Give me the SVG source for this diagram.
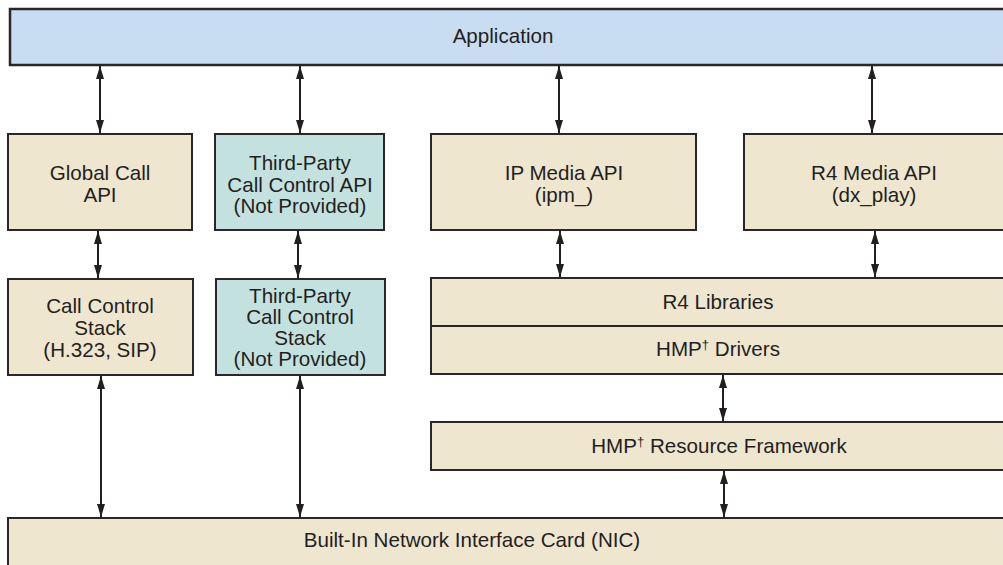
<svg xmlns="http://www.w3.org/2000/svg" width="1003" height="565" viewBox="0 0 1003 565">
<style>
.box{stroke:#2b2728;stroke-width:2}
.app{fill:#c8ddf2}
.tan{fill:#efe6d0}
.teal{fill:#c3e2df}
text{font-family:"Liberation Sans",Arial,Helvetica,sans-serif;font-size:20.6px;fill:#231f20;text-anchor:middle}
.conn line{stroke:#231f20;stroke-width:2;marker-start:url(#ah);marker-end:url(#ah)}
</style>
<defs>
<marker id="ah" viewBox="0 0 13 8" refX="13" refY="4" markerWidth="13" markerHeight="8" markerUnits="userSpaceOnUse" orient="auto-start-reverse">
<path d="M0,0 L13,4 L0,8 Z" fill="#231f20"/>
</marker>
</defs>
<rect width="1003" height="565" fill="#ffffff"/>
<g class="conn">
<line x1="100" y1="66" x2="100" y2="133"/>
<line x1="300" y1="66" x2="300" y2="133"/>
<line x1="559" y1="66" x2="559" y2="133"/>
<line x1="872" y1="66" x2="872" y2="133"/>
<line x1="98" y1="231" x2="98" y2="278"/>
<line x1="298" y1="231" x2="298" y2="278"/>
<line x1="560" y1="231" x2="560" y2="277"/>
<line x1="875" y1="231" x2="875" y2="277"/>
<line x1="101" y1="376" x2="101" y2="517"/>
<line x1="300" y1="376" x2="300" y2="517"/>
<line x1="723" y1="375" x2="723" y2="421"/>
<line x1="724" y1="471" x2="724" y2="517"/>
</g>
<g id="application">
<rect class="box app" x="10" y="9" width="1003" height="56" style="stroke-width:2.5"/>
<text x="503" y="43">Application</text>
</g>
<g id="global-call-api">
<rect class="box tan" x="8" y="134" width="184" height="96"/>
<text x="100" y="180">Global Call</text>
<text x="100" y="202">API</text>
</g>
<g id="third-party-api">
<rect class="box teal" x="215" y="134" width="169" height="96"/>
<text x="300" y="170">Third-Party</text>
<text x="300" y="191.5">Call Control API</text>
<text x="300" y="213">(Not Provided)</text>
</g>
<g id="ip-media-api">
<rect class="box tan" x="431" y="134" width="265" height="96"/>
<text x="564" y="180">IP Media API</text>
<text x="564" y="202">(ipm_)</text>
</g>
<g id="r4-media-api">
<rect class="box tan" x="744" y="134" width="270" height="96"/>
<text x="874" y="180">R4 Media API</text>
<text x="874" y="202">(dx_play)</text>
</g>
<g id="call-control-stack">
<rect class="box tan" x="8" y="279" width="185" height="96"/>
<text x="100" y="313">Call Control</text>
<text x="100" y="335">Stack</text>
<text x="100" y="357">(H.323, SIP)</text>
</g>
<g id="third-party-stack">
<rect class="box teal" x="216" y="279" width="169" height="96"/>
<text x="300" y="302.5">Third-Party</text>
<text x="300" y="323.5">Call Control</text>
<text x="300" y="344.5">Stack</text>
<text x="300" y="365.5">(Not Provided)</text>
</g>
<g id="r4-libraries">
<rect class="box tan" x="431" y="278" width="583" height="48"/>
<text x="718" y="309">R4 Libraries</text>
</g>
<g id="hmp-drivers">
<rect class="box tan" x="431" y="326" width="583" height="48"/>
<text x="718" y="356">HMP<tspan font-size="13" dy="-7">†</tspan><tspan dy="7"> Drivers</tspan></text>
</g>
<g id="hmp-resource-framework">
<rect class="box tan" x="431" y="422" width="583" height="48"/>
<text x="719" y="453">HMP<tspan font-size="13" dy="-7">†</tspan><tspan dy="7"> Resource Framework</tspan></text>
</g>
<g id="nic">
<rect class="box tan" x="8" y="518" width="1010" height="60"/>
<text x="472" y="547">Built-In Network Interface Card (NIC)</text>
</g>
</svg>
